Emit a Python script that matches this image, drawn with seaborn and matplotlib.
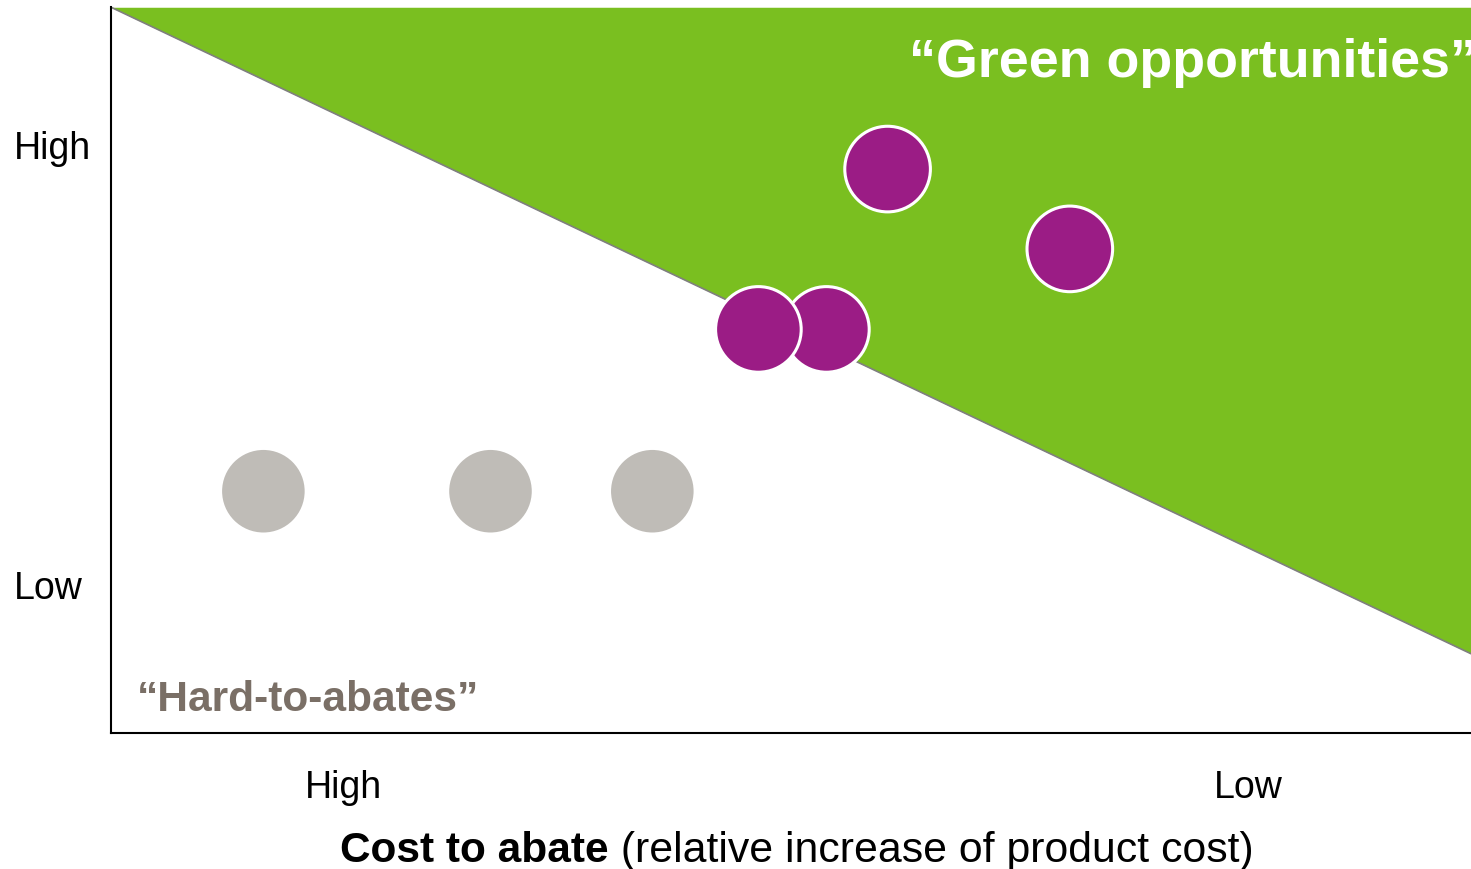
import numpy as np
import pandas as pd
import matplotlib
matplotlib.use("Agg")
import matplotlib.pyplot as plt
import seaborn as sns

# data (axis units 0..10)
opp_x = [5.26, 4.76, 5.71, 7.05]
opp_y = [5.56, 5.56, 7.77, 6.67]
hard_x = [1.12, 2.79, 3.98]
hard_y = [3.33, 3.33, 3.33]

diag_x = [0, 10]
diag_y = [10, 1.09]

xtick_pos = [1.71, 8.36]
xtick_labels = ["High", "Low"]
ytick_pos = [2.05, 8.11]
ytick_labels = ["Low", "High"]

GREEN = "#7ABF20"
PURPLE = "#9B1C85"
GREY = "#BFBCB7"
TEXT_GREY = "#7A6F66"

df = pd.DataFrame({
    "x": hard_x + opp_x,
    "y": hard_y + opp_y,
    "group": ["hard"] * len(hard_x) + ["green"] * len(opp_x),
})

sns.set_style("white")
plt.rcParams["font.family"] = ["Liberation Sans", "DejaVu Sans"]

fig = plt.figure(figsize=(14.71, 8.70), dpi=100)
ax = fig.add_axes([0.0755, 0.1565, 0.9245, 0.834])

# green area above the diagonal
ax.fill_between(diag_x, diag_y, 10, color=GREEN, linewidth=0, zorder=0)
ax.plot(diag_x, diag_y, color="#7F7F7F", linewidth=1.2, zorder=1)

sns.scatterplot(data=df, x="x", y="y", hue="group",
                palette={"hard": GREY, "green": PURPLE},
                s=3800, edgecolor="white", linewidth=2.2,
                legend=False, ax=ax, zorder=3)

ax.set_xlim(0, 10)
ax.set_ylim(0, 10)

ax.set_xticks(xtick_pos)
ax.set_xticklabels(xtick_labels, fontsize=27, color="black")
ax.set_yticks(ytick_pos)
ax.set_yticklabels(ytick_labels, fontsize=27, color="black", ha="left")
ax.tick_params(axis="x", length=0, pad=26)
ax.tick_params(axis="y", length=0, pad=70)

ax.set_xlabel("")
ax.set_ylabel("")

for side in ["top", "right"]:
    ax.spines[side].set_visible(False)
for side in ["left", "bottom"]:
    ax.spines[side].set_color("black")
    ax.spines[side].set_linewidth(1.5)

# the reference lets this label run into the right edge
ax.text(5.87, 9.24, "\u201cGreen opportunities\u201d", color="white",
        fontsize=38.7, fontweight="bold", va="center", ha="left", clip_on=False)
ax.text(0.19, 0.47, "\u201cHard-to-abates\u201d", color=TEXT_GREY,
        fontsize=30.6, fontweight="bold", va="center", ha="left")

# x label: bold part + regular part
t1 = fig.text(340 / 1471, 1 - 862 / 870, "Cost to abate", fontsize=30.5,
              fontweight="bold", ha="left", va="baseline", color="black")
ax.annotate(" (relative increase of product cost)", xy=(1, 0), xycoords=t1,
            fontsize=30.8, ha="left", va="bottom", color="black",
            annotation_clip=False)

fig.savefig("out.png", dpi=100)
